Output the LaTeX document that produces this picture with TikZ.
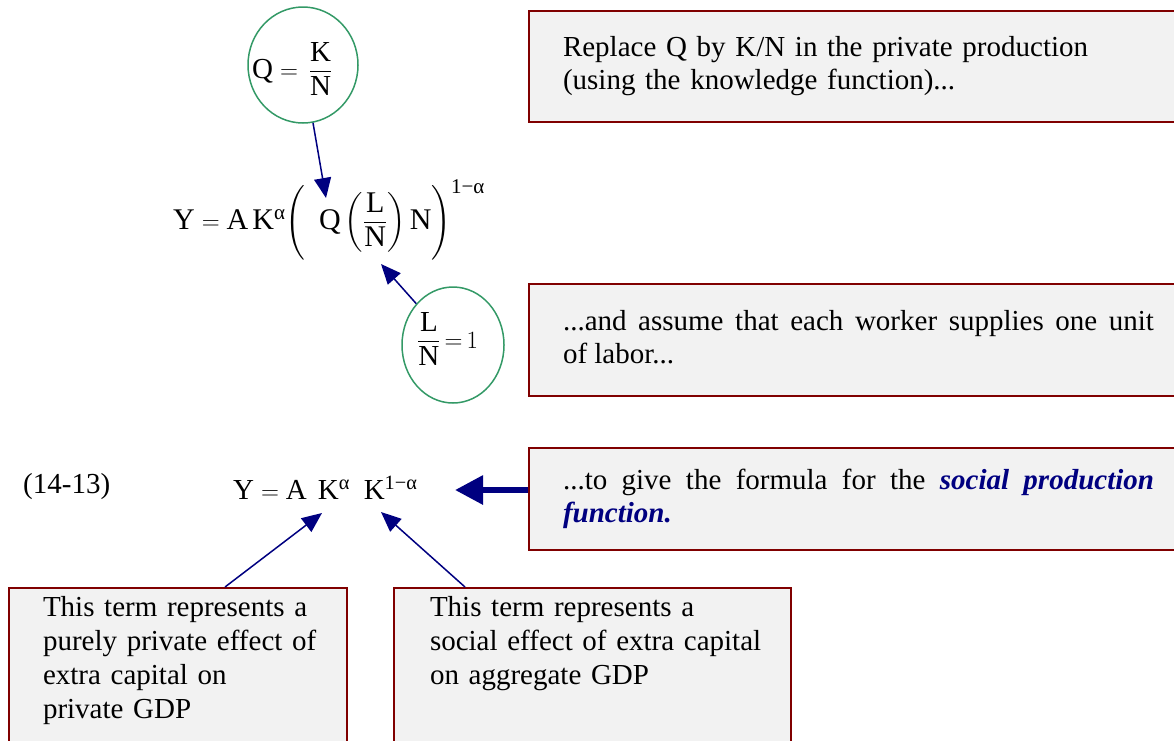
\documentclass[tikz,border=0pt]{standalone}
\usepackage{amsmath}
\usepackage{fontspec}
\setmainfont{Liberation Serif}
\usepackage{xcolor}
\usepackage{tikz}
\usetikzlibrary{positioning,shapes.geometric,arrows.meta}

\definecolor{boxred}{RGB}{128,0,0}
\definecolor{boxfill}{RGB}{242,242,242}
\definecolor{arrnavy}{RGB}{0,0,128}
\definecolor{ringgreen}{RGB}{51,153,102}

\newcommand{\tin}{\hspace*{10pt}}

\begin{document}
\begin{tikzpicture}[
  x=1pt, y=-1pt,
  note/.style={draw=boxred, line width=2pt, fill=boxfill, anchor=north west, font=\fontsize{29}{33}\selectfont, inner xsep=34pt, inner ysep=0pt, text width=591pt, align=#1},
  note/.default={left},
  term/.style={draw=boxred, line width=2pt, fill=boxfill, anchor=north west, font=\fontsize{29}{34.3}\selectfont, inner xsep=24pt, inner ysep=4pt, text depth=170pt, align=left},
  ring/.style={ellipse, draw=ringgreen, line width=1.5pt, inner sep=0pt, minimum height=116pt, minimum width=#1},
  eqn/.style={anchor=base west, inner sep=0pt, font=\fontsize{29}{34}\selectfont},
  arr/.style={-{Triangle[length=20pt,width=17pt]}, line width=1.5pt, draw=arrnavy, fill=arrnavy},
  bigarr/.style={-{Triangle[length=28pt,width=28pt]}, line width=6pt, draw=arrnavy, fill=arrnavy},
  >=stealth
]
\clip (0,0) rectangle (1174,740);

% ── Explanation boxes (right) ────────────────────────────────
\node[note, minimum height=111pt] (repl) at (528,10)
  {\strut Replace Q by K/N in the private production\\(using the knowledge function)...\strut};
\node[note=justify, minimum height=112pt] (labor) at (528,283)
  {\strut ...and assume that each worker supplies one unit\linebreak of labor...\strut};
\node[note=justify, minimum height=102pt] (social) at (528,447)
  {\strut ...to give the formula for the {\color{arrnavy}\bfseries\itshape social production\linebreak function.}\strut};

% ── Term boxes (bottom) ──────────────────────────────────────
\node[term, text width=290pt] (priv) at (8,587)
  {\tin\strut This term represents a\\\tin purely private effect of\\\tin extra capital on\\\tin private GDP};
\node[term, text width=345pt, inner xsep=26pt] (soc) at (393,587)
  {\tin\strut This term represents a\\\tin social effect of extra capital\\\tin on aggregate GDP};

% ── Substitution rings ───────────────────────────────────────
\node[ring=110pt] (kq) at (303,65) {};
\node[eqn] (kqtxt) at (252,78) {$\mathrm{Q}=\,\dfrac{\mathrm{K}}{\mathrm{N}}$};
\node[ring=102pt] (ln) at (453,345) {};
\node[eqn] (lntxt) at (417,348) {$\dfrac{\mathrm{L}}{\mathrm{N}}\,{=}\,1$};

% ── Equations ────────────────────────────────────────────────
\node[eqn, font=\fontsize{30}{36}\selectfont] (priveq) at (173,229)
  {$\mathrm{Y}=\mathrm{A}\,\mathrm{K}^{\text{α}}\Biggl(\;\;\mathrm{Q}\left(\dfrac{\mathrm{L}}{\mathrm{N}}\right)\mathrm{N}\Biggr)^{\text{1−α}}$};
\node[eqn] (eqno) at (23,493) {(14-13)};
\node[eqn] (soceq) at (233,499)
  {$\mathrm{Y}=\mathrm{A}\;\,\mathrm{K}^{\text{α}}\;\;\mathrm{K}^{\text{1−α}}$};

\coordinate (qtip) at (326,198);
\coordinate (ltip) at (381,264);
\coordinate (stip) at (455,490);
\coordinate (katip) at (322,513);
\coordinate (kbtip) at (381,512);

% ── Arrows ───────────────────────────────────────────────────
\draw[arr] (kq) -- (qtip);
\draw[arr] (ln) -- (ltip);
\draw[bigarr] (social.west |- stip) -- (stip);
\draw[arr] ([xshift=47pt]priv.north) -- (katip);
\draw[arr] ([xshift=72pt]soc.north west) -- (kbtip);

\end{tikzpicture}
\end{document}
